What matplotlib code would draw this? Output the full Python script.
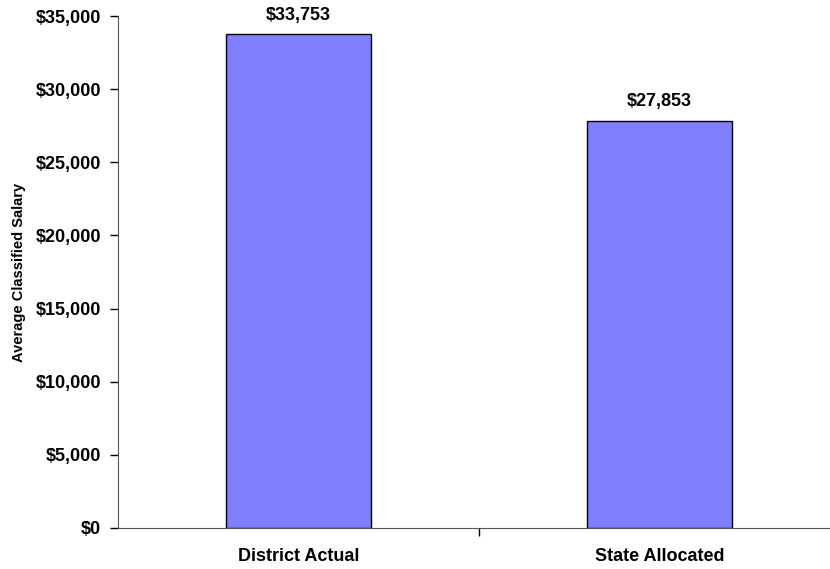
import matplotlib.pyplot as plt
from matplotlib.ticker import FuncFormatter

plt.rcParams['font.family'] = ['Liberation Sans', 'DejaVu Sans']

categories = ['District Actual', 'State Allocated']
salaries = [33753, 27853]

fig = plt.figure(figsize=(8.3, 5.69), dpi=100)
ax = fig.add_axes([118/830, 1-528/569, 722/830, 512/569])

x = range(len(categories))
bars = ax.bar(x, salaries, width=0.4, color='#8080FF', edgecolor='black', linewidth=1)

for b, v in zip(bars, salaries):
    ax.text(b.get_x() + b.get_width()/2, v + 700, '${:,}'.format(v),
            ha='center', va='bottom', fontsize=13, fontweight='bold')

ax.set_xlim(-0.5, 1.5)
ax.set_ylim(0, 35000)
ax.set_yticks(range(0, 35001, 5000))
ax.yaxis.set_major_formatter(FuncFormatter(lambda v, p: '${:,.0f}'.format(v)))
ax.set_xticks([0.5])
ax.set_xticklabels([''])
ax.tick_params(axis='y', direction='out', length=6, labelsize=13, width=1, pad=6)
ax.tick_params(axis='x', direction='out', length=6, width=1)
for lbl in ax.get_yticklabels():
    lbl.set_fontweight('bold')

for i, c in enumerate(categories):
    ax.text(i, -1350, c, ha='center', va='top', fontsize=13, fontweight='bold')

ax.set_ylabel('Average Classified Salary', fontsize=10.5, fontweight='bold', labelpad=7)

ax.spines['top'].set_visible(False)
ax.spines['right'].set_visible(False)
ax.spines['left'].set_color('#555555')
ax.spines['bottom'].set_color('#555555')

fig.savefig('out.png', dpi=100)
